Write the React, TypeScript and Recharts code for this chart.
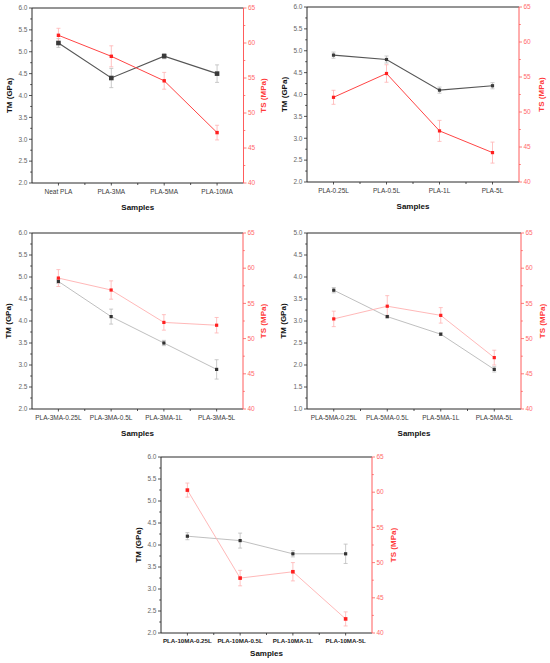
import React from 'react';
import { LineChart, Line, XAxis, YAxis, ErrorBar, ReferenceLine } from 'recharts';

const FONT = '"Liberation Sans", Arial, Helvetica, sans-serif';

// ---- Data ----
const cats1 = ['Neat PLA', 'PLA-3MA', 'PLA-5MA', 'PLA-10MA'];
const tm1 = [5.2, 4.4, 4.9, 4.5];
const tmErr1 = [0.1, 0.22, 0.06, 0.2];
const ts1 = [61.1, 58.1, 54.6, 47.2];
const tsErr1 = [1.0, 1.5, 1.2, 1.05];

const cats2 = ['PLA-0.25L', 'PLA-0.5L', 'PLA-1L', 'PLA-5L'];
const tm2 = [4.9, 4.8, 4.1, 4.2];
const tmErr2 = [0.07, 0.08, 0.07, 0.07];
const ts2 = [52.1, 55.5, 47.3, 44.2];
const tsErr2 = [1.0, 1.25, 1.5, 1.5];

const cats3 = ['PLA-3MA-0.25L', 'PLA-3MA-0.5L', 'PLA-3MA-1L', 'PLA-3MA-5L'];
const tm3 = [4.9, 4.1, 3.5, 2.9];
const tmErr3 = [0.05, 0.17, 0.06, 0.22];
const ts3 = [58.6, 56.9, 52.3, 51.9];
const tsErr3 = [1.2, 1.3, 1.1, 1.1];

const cats4 = ['PLA-5MA-0.25L', 'PLA-5MA-0.5L', 'PLA-5MA-1L', 'PLA-5MA-5L'];
const tm4 = [3.7, 3.1, 2.7, 1.9];
const tmErr4 = [0.06, 0.03, 0.03, 0.06];
const ts4 = [52.8, 54.6, 53.3, 47.3];
const tsErr4 = [1.1, 1.5, 1.1, 1.05];

const cats5 = ['PLA-10MA-0.25L', 'PLA-10MA-0.5L', 'PLA-10MA-1L', 'PLA-10MA-5L'];
const tm5 = [4.2, 4.1, 3.8, 3.8];
const tmErr5 = [0.08, 0.17, 0.07, 0.22];
const ts5 = [60.3, 47.8, 48.7, 42.0];
const tsErr5 = [1.0, 1.1, 1.3, 1.0];

const tmTicksA = [2, 2.25, 2.5, 2.75, 3, 3.25, 3.5, 3.75, 4, 4.25, 4.5, 4.75, 5, 5.25, 5.5, 5.75, 6];
const tmTicksB = [1, 1.25, 1.5, 1.75, 2, 2.25, 2.5, 2.75, 3, 3.25, 3.5, 3.75, 4, 4.25, 4.5, 4.75, 5];
const tsTicks = [40, 42.5, 45, 47.5, 50, 52.5, 55, 57.5, 60, 62.5, 65];

// ---- Styles ----
const AXIS = '#2a2a2a';
const RED_AXIS = '#ff5c5c';
const RED_TICK = '#ff6a6a';
const RED_TITLE = '#ff3a3a';

type Cfg = {
  x: number; y: number; w: number; h: number;
  left: number; right: number; top: number; bottom: number;
  cats: string[]; tm: number[]; tmErr: number[]; ts: number[]; tsErr: number[];
  tmDomain: [number, number]; tmTicks: number[];
  tmLabelX: number; tsLabelX: number; xTitleDy: number;
  dark: boolean; boldX: boolean; tmDot: number; tsDot: number;
};

const panels: Cfg[] = [
  { x: 0, y: 0, w: 275, h: 220, left: 32, right: 243.5, top: 8, bottom: 183,
    cats: cats1, tm: tm1, tmErr: tmErr1, ts: ts1, tsErr: tsErr1,
    tmDomain: [2, 6], tmTicks: tmTicksA, tmLabelX: 9, tsLabelX: 263, xTitleDy: 24,
    dark: true, boldX: false, tmDot: 4.6, tsDot: 3.4 },
  { x: 275, y: 0, w: 275, h: 220, left: 32, right: 244, top: 7, bottom: 182,
    cats: cats2, tm: tm2, tmErr: tmErr2, ts: ts2, tsErr: tsErr2,
    tmDomain: [2, 6], tmTicks: tmTicksA, tmLabelX: 9, tsLabelX: 266, xTitleDy: 24,
    dark: true, boldX: false, tmDot: 3.2, tsDot: 3.2 },
  { x: 0, y: 220, w: 275, h: 220, left: 32, right: 243, top: 13, bottom: 189,
    cats: cats3, tm: tm3, tmErr: tmErr3, ts: ts3, tsErr: tsErr3,
    tmDomain: [2, 6], tmTicks: tmTicksA, tmLabelX: 8, tsLabelX: 263, xTitleDy: 24,
    dark: false, boldX: false, tmDot: 3.2, tsDot: 3.2 },
  { x: 275, y: 220, w: 275, h: 220, left: 32, right: 246, top: 13, bottom: 189,
    cats: cats4, tm: tm4, tmErr: tmErr4, ts: ts4, tsErr: tsErr4,
    tmDomain: [1, 5], tmTicks: tmTicksB, tmLabelX: 8, tsLabelX: 267, xTitleDy: 24,
    dark: false, boldX: false, tmDot: 3.2, tsDot: 3.2 },
  { x: 120, y: 440, w: 290, h: 223, left: 41, right: 252, top: 17, bottom: 193,
    cats: cats5, tm: tm5, tmErr: tmErr5, ts: ts5, tsErr: tsErr5,
    tmDomain: [2, 6], tmTicks: tmTicksA, tmLabelX: 18, tsLabelX: 273, xTitleDy: 20,
    dark: false, boldX: true, tmDot: 3.2, tsDot: 3.6 },
];

function isMajor(v: number, step: number) {
  const r = v / step;
  return Math.abs(r - Math.round(r)) < 1e-6;
}

function YTick(props: any) {
  const { y, payload, axisX, side, step, color, lineColor, decimals } = props;
  const v = payload.value as number;
  const major = isMajor(v, step);
  const sign = side === 'left' ? -1 : 1;
  const len = major ? 3 : 1.8;
  return (
    <g>
      <line x1={axisX} x2={axisX + sign * len} y1={y} y2={y} stroke={lineColor} strokeWidth={0.8} />
      {major && (
        <text x={axisX + sign * 4.5} y={y} dy="0.35em" textAnchor={side === 'left' ? 'end' : 'start'}
          fontFamily={FONT} fontSize={6.5} fill={color}>
          {decimals ? v.toFixed(1) : String(v)}
        </text>
      )}
    </g>
  );
}

function XTick(props: any) {
  const { x, payload, axisY, step, index, count, bold } = props;
  return (
    <g>
      <line x1={x} x2={x} y1={axisY} y2={axisY + 2.5} stroke={AXIS} strokeWidth={0.8} />
      {index < count - 1 && (
        <line x1={x + step / 2} x2={x + step / 2} y1={axisY} y2={axisY + 2} stroke={AXIS} strokeWidth={0.8} />
      )}
      <text x={x} y={axisY + 6} dy="0.71em" textAnchor="middle" fontFamily={FONT}
        fontSize={bold ? 6.2 : 6.5} fontWeight={bold ? 'bold' : 'normal'} fill={bold ? '#222' : '#3a3a3a'}>
        {payload.value}
      </text>
    </g>
  );
}

function XTitle(props: any) {
  const vb = props.viewBox || {};
  const { dyOff } = props;
  return (
    <text x={vb.x + vb.width / 2} y={vb.y + dyOff} dy="0.35em" textAnchor="middle" fontFamily={FONT}
      fontSize={8} fontWeight="bold" fill="#111">
      Samples
    </text>
  );
}

function YTitle(props: any) {
  const vb = props.viewBox || {};
  const { px, text, color } = props;
  const cy = vb.y + vb.height / 2;
  return (
    <text x={px} y={cy} transform={`rotate(-90 ${px} ${cy})`} dy="0.35em" textAnchor="middle"
      fontFamily={FONT} fontSize={8} fontWeight="bold" fill={color}>
      {text}
    </text>
  );
}

function Square(props: any) {
  const { cx, cy, size, fill } = props;
  if (cx == null || cy == null) return null;
  return <rect x={cx - size / 2} y={cy - size / 2} width={size} height={size} fill={fill} />;
}

function Panel({ cfg }: { cfg: Cfg }) {
  const data = cfg.cats.map((c, i) => ({
    cat: c, tm: cfg.tm[i], tmErr: cfg.tmErr[i], ts: cfg.ts[i], tsErr: cfg.tsErr[i],
  }));
  const plotW = cfg.right - cfg.left;
  const pad = plotW / 8;
  const step = plotW / 4;
  const tmLine = cfg.dark ? '#555555' : '#b8b8b8';
  const tmMark = cfg.dark ? '#3a3a3a' : '#333333';
  const tsLine = cfg.dark ? '#ff4545' : '#ffb0b0';
  const tsMark = '#ff2020';
  return (
    <div style={{ position: 'absolute', left: cfg.x, top: cfg.y, width: cfg.w, height: cfg.h }}>
      <LineChart width={cfg.w} height={cfg.h} data={data}
        margin={{ top: cfg.top, right: 0, bottom: 0, left: 0 }}>
        <XAxis dataKey="cat" type="category" height={cfg.h - cfg.bottom} padding={{ left: pad, right: pad }}
          interval={0} tickLine={false} axisLine={{ stroke: AXIS, strokeWidth: 1 }}
          tick={<XTick axisY={cfg.bottom} step={step} count={cfg.cats.length} bold={cfg.boldX} />}
          label={<XTitle dyOff={cfg.xTitleDy} />} />
        <YAxis yAxisId="tm" orientation="left" width={cfg.left} domain={cfg.tmDomain} ticks={cfg.tmTicks}
          interval={0} allowDataOverflow type="number" tickLine={false} axisLine={{ stroke: AXIS, strokeWidth: 1 }}
          tick={<YTick axisX={cfg.left} side="left" step={0.5} color="#666666" lineColor={AXIS} decimals />}
          label={<YTitle px={cfg.tmLabelX} text="TM (GPa)" color="#111111" />} />
        <YAxis yAxisId="ts" orientation="right" width={cfg.w - cfg.right} domain={[40, 65]} ticks={tsTicks}
          interval={0} allowDataOverflow type="number" tickLine={false} axisLine={{ stroke: RED_AXIS, strokeWidth: 1 }}
          tick={<YTick axisX={cfg.right} side="right" step={5} color={RED_TICK} lineColor={RED_AXIS} decimals={false} />}
          label={<YTitle px={cfg.tsLabelX} text="TS (MPa)" color={RED_TITLE} />} />
        <ReferenceLine yAxisId="tm" y={cfg.tmDomain[1]} stroke={AXIS} strokeWidth={1} />
        <Line yAxisId="tm" dataKey="tm" type="linear" stroke={tmLine} strokeWidth={cfg.dark ? 1.1 : 0.9}
          isAnimationActive={false} dot={<Square size={cfg.tmDot} fill={tmMark} />} activeDot={false}>
          <ErrorBar dataKey="tmErr" direction="y" width={2} stroke="#bdbdbd" strokeWidth={0.8} />
        </Line>
        <Line yAxisId="ts" dataKey="ts" type="linear" stroke={tsLine} strokeWidth={cfg.dark ? 1.0 : 0.9}
          isAnimationActive={false} dot={<Square size={cfg.tsDot} fill={tsMark} />} activeDot={false}>
          <ErrorBar dataKey="tsErr" direction="y" width={2} stroke="#ffb3b3" strokeWidth={0.8} />
        </Line>
      </LineChart>
    </div>
  );
}

export default function App() {
  return (
    <div style={{ position: 'absolute', left: 0, top: 0, width: 550, height: 663, background: '#fff' }}>
      {panels.map((p, i) => <Panel key={i} cfg={p} />)}
    </div>
  );
}
